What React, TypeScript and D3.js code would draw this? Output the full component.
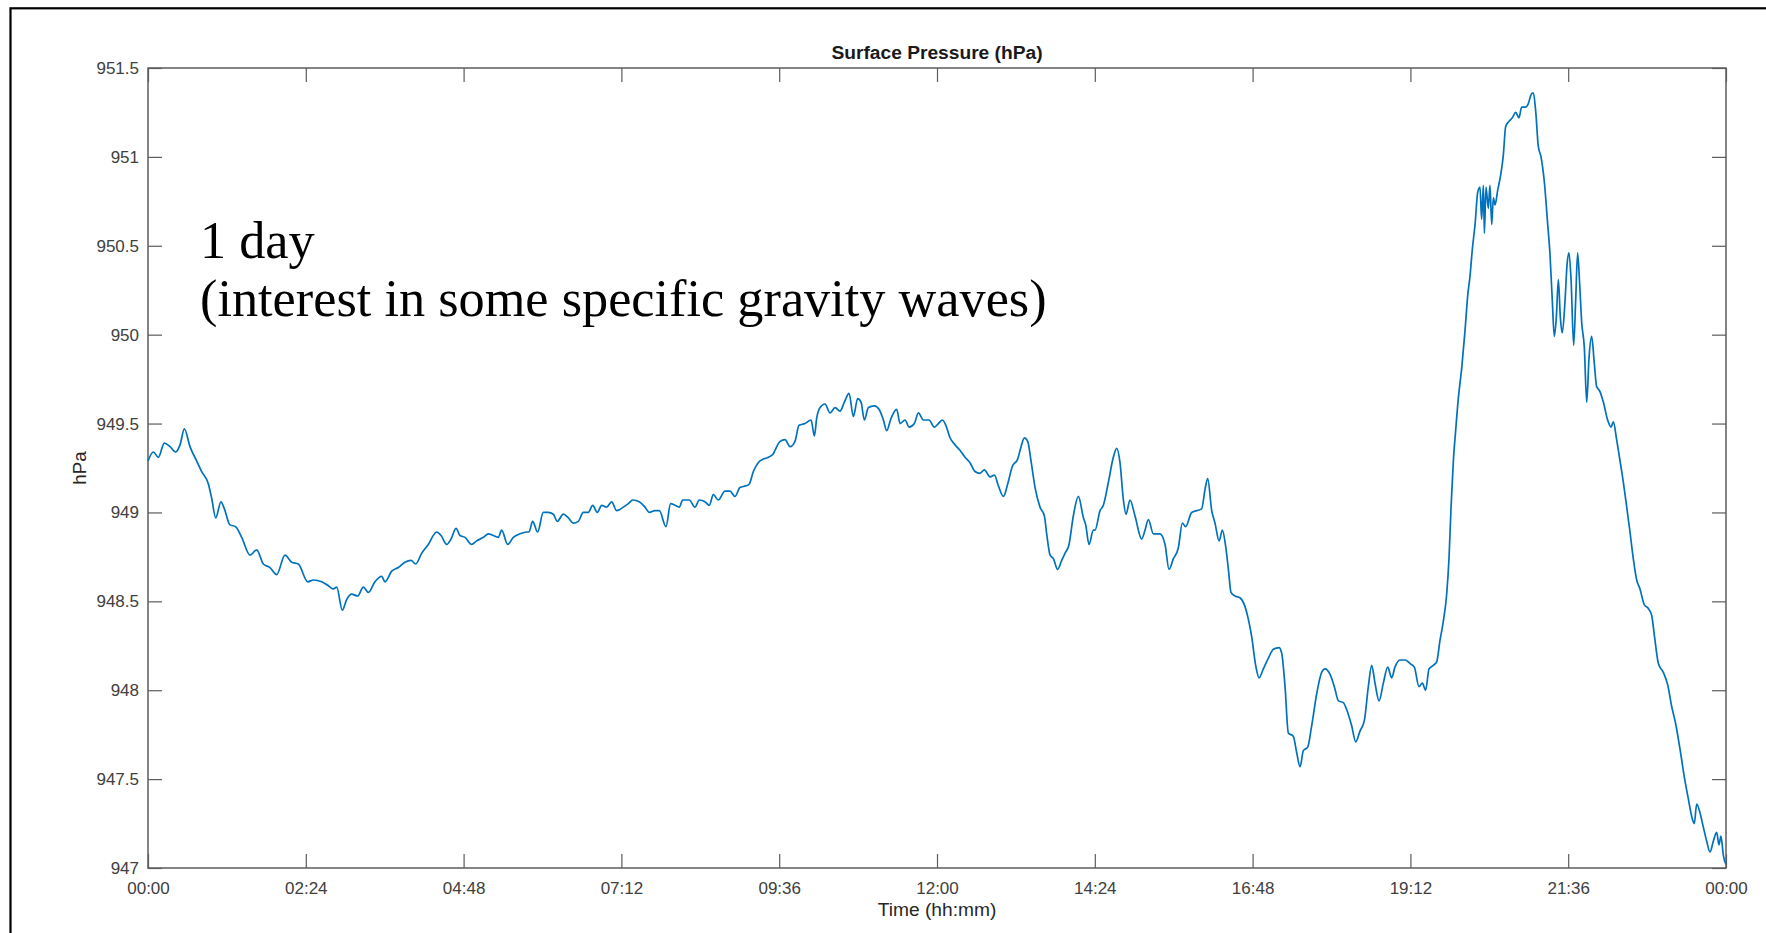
import React, { useEffect, useRef } from 'react';
import * as d3 from 'd3';

// readings: [minutes since 00:00, pressure in hPa]
const nightReadings: [number, number][] = [
  [0, 949.29], [4.9, 949.34], [9.4, 949.31], [14.9, 949.39], [20.1, 949.37], [25.2, 949.34],
  [29.2, 949.38], [33.2, 949.47], [38.3, 949.37], [44.4, 949.29], [49.0, 949.23], [55.1, 949.16],
  [58.1, 949.08], [61.8, 948.97], [66.6, 949.06], [69.7, 949.02], [74.8, 948.93], [80.0, 948.92],
  [85.5, 948.86], [93.1, 948.76], [99.2, 948.79], [105.2, 948.71], [111.3, 948.69], [117.4, 948.65],
  [125.0, 948.76], [131.1, 948.72], [137.2, 948.71], [145.7, 948.61], [150.9, 948.62], [158.5, 948.61],
  [164.0, 948.59], [169.1, 948.57], [172.2, 948.58], [177.3, 948.45], [181.3, 948.51], [185.9, 948.54],
  [191.3, 948.53], [196.5, 948.58], [201.1, 948.55], [207.1, 948.61], [213.2, 948.64], [216.3, 948.61],
  [222.4, 948.67], [228.4, 948.69], [234.5, 948.72], [240.0, 948.73], [244.3, 948.71], [249.7, 948.77],
  [255.8, 948.82], [263.4, 948.89], [267.4, 948.87], [272.6, 948.82], [276.5, 948.85], [281.1, 948.91],
];

const morningReadings: [number, number][] = [
  [284.7, 948.87], [289.3, 948.86], [295.3, 948.82], [299.9, 948.84], [306.0, 948.86], [310.6, 948.88],
  [315.1, 948.87], [319.7, 948.86], [322.7, 948.9], [328.2, 948.82], [333.4, 948.86], [339.5, 948.88],
  [345.5, 948.89], [347.7, 948.89], [351.0, 948.95], [355.6, 948.89], [360.7, 949.0], [365.3, 949.0],
  [369.9, 948.99], [373.5, 948.95], [379.0, 948.99], [383.6, 948.97], [388.1, 948.94], [392.7, 948.95],
  [397.2, 949.0], [401.8, 949.0], [405.8, 949.04], [410.0, 949.0], [414.0, 949.04], [418.5, 949.03],
  [423.1, 949.06], [427.7, 949.01], [433.7, 949.03], [438.3, 949.05], [442.3, 949.07], [448.3, 949.06],
  [453.5, 949.03], [457.5, 949.0], [462.6, 949.01], [466.6, 949.01], [472.7, 948.92], [476.9, 949.05],
  [480.9, 949.04], [484.9, 949.03], [487.9, 949.07], [494.0, 949.07], [499.1, 949.03], [503.1, 949.07],
  [508.3, 949.06], [512.2, 949.04], [515.9, 949.1], [520.4, 949.07], [526.5, 949.12], [531.1, 949.12],
  [535.6, 949.09], [540.2, 949.14], [545.7, 949.15], [548.7, 949.16], [552.4, 949.23], [556.9, 949.28],
  [561.5, 949.3], [566.1, 949.31], [570.6, 949.33],
];

const middayReadings: [number, number][] = [
  [572.2, 949.35], [576.8, 949.4], [581.3, 949.41], [585.9, 949.37], [590.4, 949.4], [594.1, 949.49],
  [599.6, 949.5], [605.1, 949.52], [608.1, 949.43], [610.2, 949.53], [613.3, 949.59], [617.8, 949.61],
  [622.4, 949.56], [627.0, 949.59], [631.5, 949.57], [635.5, 949.62], [639.7, 949.67], [643.7, 949.54],
  [647.6, 949.64], [650.7, 949.62], [653.7, 949.52], [657.4, 949.59], [662.8, 949.6], [667.1, 949.58],
  [671.1, 949.52], [674.1, 949.46], [678.1, 949.53], [683.2, 949.58], [686.3, 949.5], [690.8, 949.52],
  [694.5, 949.48], [699.3, 949.5], [703.0, 949.56], [707.6, 949.52], [712.7, 949.52], [717.6, 949.48],
  [721.3, 949.5], [724.9, 949.52], [728.1, 949.49], [731.9, 949.42], [736.5, 949.38], [741.0, 949.35],
  [745.6, 949.31], [750.1, 949.28], [754.7, 949.23], [759.3, 949.22], [763.2, 949.24], [768.4, 949.2],
  [772.4, 949.21], [776.0, 949.15], [780.6, 949.09], [784.5, 949.16], [788.8, 949.26], [793.6, 949.3],
  [796.7, 949.37], [799.7, 949.42], [802.8, 949.4], [805.8, 949.29], [809.5, 949.14], [814.0, 949.03],
  [818.0, 948.98], [820.1, 948.88], [823.2, 948.76], [826.2, 948.74], [830.1, 948.68], [833.8, 948.73],
  [836.8, 948.77], [840.5, 948.82], [844.4, 948.98], [849.0, 949.09], [853.6, 948.97], [855.7, 948.93],
  [858.7, 948.82], [862.7, 948.9],
];

const afternoonReadings: [number, number][] = [
  [864.2, 948.9], [868.8, 949.01], [871.8, 949.04], [876.4, 949.17], [880.9, 949.31], [884.0, 949.36],
  [887.0, 949.28], [890.1, 949.07], [892.5, 948.99], [896.1, 949.07], [900.7, 948.98], [906.8, 948.85],
  [909.8, 948.9], [912.9, 948.96], [917.4, 948.88], [923.5, 948.88], [928.1, 948.82], [931.7, 948.68],
  [935.7, 948.74], [940.2, 948.8], [943.9, 948.94], [946.9, 948.92], [952.4, 949.0], [957.0, 949.01],
  [961.5, 949.02], [964.6, 949.13], [967.0, 949.19], [970.7, 949.01], [973.7, 948.94], [977.4, 948.84],
  [980.4, 948.9], [983.4, 948.81], [985.9, 948.68], [988.3, 948.55], [992.0, 948.53], [996.5, 948.52],
  [1000.5, 948.48], [1004.1, 948.4], [1007.2, 948.3], [1010.8, 948.14], [1013.9, 948.07], [1017.8, 948.12],
  [1022.4, 948.18], [1026.9, 948.23], [1032.1, 948.24], [1034.5, 948.21], [1037.6, 948.02], [1040.6, 947.76],
  [1045.2, 947.74], [1048.2, 947.65], [1051.3, 947.57], [1054.3, 947.66], [1058.3, 947.68], [1061.9, 947.8],
  [1066.5, 947.98], [1071.0, 948.1], [1074.1, 948.12], [1078.6, 948.09], [1082.6, 948.02], [1086.3, 947.94],
  [1090.8, 947.93], [1093.9, 947.89], [1098.4, 947.8], [1102.1, 947.71], [1106.0, 947.77], [1110.0, 947.83],
  [1113.6, 948.02], [1116.7, 948.14], [1119.7, 948.04], [1123.4, 947.94], [1127.3, 948.04], [1131.3, 948.13],
  [1134.9, 948.07], [1137.9, 948.13], [1142.5, 948.17], [1147.1, 948.17], [1151.7, 948.15], [1155.6, 948.13],
];

const eveningReadings: [number, number][] = [
  [1159.8, 948.02], [1162.9, 948.04], [1165.9, 948.0], [1169.0, 948.12], [1172.9, 948.14], [1176.0, 948.16],
  [1179.0, 948.28], [1182.1, 948.39], [1185.1, 948.54], [1187.2, 948.74], [1189.1, 949.03], [1191.2, 949.29],
  [1193.3, 949.46], [1195.7, 949.64], [1198.8, 949.81], [1201.8, 950.02], [1204.3, 950.22], [1206.4, 950.33],
  [1208.5, 950.48], [1211.0, 950.62], [1213.4, 950.8], [1215.5, 950.83], [1217.0, 950.65], [1218.6, 950.84],
  [1219.5, 950.57], [1221.0, 950.83], [1223.1, 950.71], [1224.6, 950.84], [1226.2, 950.62], [1227.7, 950.77],
  [1229.2, 950.73], [1231.6, 950.81], [1234.7, 950.91], [1236.8, 951.01], [1238.9, 951.17], [1242.0, 951.2],
  [1245.0, 951.22], [1248.1, 951.25], [1251.1, 951.22], [1253.5, 951.28], [1257.2, 951.28], [1259.6, 951.3],
  [1262.1, 951.35], [1264.2, 951.36], [1266.3, 951.26], [1268.7, 951.06], [1271.2, 951.0], [1274.2, 950.86],
  [1277.3, 950.62], [1279.4, 950.45], [1281.5, 950.19], [1283.3, 949.99], [1285.2, 950.1], [1287.0, 950.31],
  [1288.8, 950.1], [1290.6, 950.01], [1293.1, 950.19], [1294.9, 950.39], [1296.7, 950.46], [1298.6, 950.31],
  [1301.0, 949.94], [1302.8, 950.19], [1304.6, 950.46], [1306.5, 950.28], [1308.3, 950.07], [1310.7, 949.93],
  [1312.9, 949.62], [1315.0, 949.87], [1317.4, 949.99], [1319.8, 949.84], [1321.9, 949.71], [1325.0, 949.68],
  [1328.1, 949.62], [1332.0, 949.52], [1335.1, 949.48], [1337.2, 949.51], [1340.2, 949.41], [1343.3, 949.29],
  [1346.3, 949.17], [1349.4, 949.03], [1352.4, 948.89], [1355.4, 948.74], [1358.5, 948.62], [1361.5, 948.57],
  [1365.5, 948.48], [1369.1, 948.46], [1372.2, 948.42], [1374.6, 948.31], [1378.3, 948.15], [1382.8, 948.1],
  [1386.8, 948.03], [1390.4, 947.91], [1394.1, 947.81], [1398.0, 947.67], [1402.0, 947.51], [1405.6, 947.39],
  [1408.7, 947.29], [1411.1, 947.25], [1413.2, 947.36], [1416.3, 947.31], [1419.3, 947.23], [1422.4, 947.15],
  [1425.4, 947.09], [1428.4, 947.15], [1431.5, 947.2], [1433.6, 947.13], [1435.4, 947.18], [1437.6, 947.07],
  [1440, 947.02],
];

const yTicks = [947, 947.5, 948, 948.5, 949, 949.5, 950, 950.5, 951, 951.5];
const yTickLabels = ['947', '947.5', '948', '948.5', '949', '949.5', '950', '950.5', '951', '951.5'];
const xTicks = [0, 144, 288, 432, 576, 720, 864, 1008, 1152, 1296, 1440];
const xTickLabels = ['00:00', '02:24', '04:48', '07:12', '09:36', '12:00', '14:24', '16:48', '19:12', '21:36', '00:00'];

const App: React.FC = () => {
  const svgRef = useRef<SVGSVGElement | null>(null);

  useEffect(() => {
    if (!svgRef.current) return;

    const width = 1766;
    const height = 933;
    const margin = { top: 68, right: 40, bottom: 65, left: 148 };
    const sans = '"Liberation Sans", Arial, Helvetica, sans-serif';
    const axisColor = '#5c5c5c';

    const svg = d3.select(svgRef.current);
    svg.selectAll('*').remove();

    svg.append('rect').attr('width', width).attr('height', height).attr('fill', '#fff');

    // frame of the slide the figure was cut from
    svg
      .append('rect')
      .attr('x', 10.5)
      .attr('y', 8.3)
      .attr('width', 2000)
      .attr('height', 2000)
      .attr('fill', 'none')
      .attr('stroke', '#000')
      .attr('stroke-width', 2.2);

    const data = [
      ...nightReadings,
      ...morningReadings,
      ...middayReadings,
      ...afternoonReadings,
      ...eveningReadings,
    ];

    const xScale = d3
      .scaleLinear()
      .domain([0, 1440])
      .range([margin.left, width - margin.right]);

    const yScale = d3
      .scaleLinear()
      .domain([947, 951.5])
      .range([height - margin.bottom, margin.top]);

    const styleAxis = (g: d3.Selection<SVGGElement, unknown, null, undefined>) => {
      g.select('.domain').remove();
      g.selectAll('.tick line').attr('stroke', axisColor).attr('stroke-width', 1.2);
      g.selectAll('.tick text')
        .attr('fill', '#404040')
        .attr('font-size', 17)
        .attr('font-family', sans);
    };

    svg
      .append('g')
      .attr('transform', `translate(0, ${height - margin.bottom})`)
      .call(
        d3
          .axisBottom(xScale)
          .tickValues(xTicks)
          .tickFormat((d, i) => xTickLabels[i])
          .tickSize(-14)
          .tickPadding(14)
      )
      .call(styleAxis);

    svg
      .append('g')
      .attr('transform', `translate(0, ${margin.top})`)
      .call(d3.axisTop(xScale).tickValues(xTicks).tickFormat(() => '').tickSize(-14))
      .call(styleAxis);

    svg
      .append('g')
      .attr('transform', `translate(${margin.left}, 0)`)
      .call(
        d3
          .axisLeft(yScale)
          .tickValues(yTicks)
          .tickFormat((d, i) => yTickLabels[i])
          .tickSize(-14)
          .tickPadding(9)
      )
      .call(styleAxis);

    svg
      .append('g')
      .attr('transform', `translate(${width - margin.right}, 0)`)
      .call(d3.axisRight(yScale).tickValues(yTicks).tickFormat(() => '').tickSize(-14))
      .call(styleAxis);

    svg
      .append('rect')
      .attr('x', margin.left)
      .attr('y', margin.top)
      .attr('width', width - margin.left - margin.right)
      .attr('height', height - margin.top - margin.bottom)
      .attr('fill', 'none')
      .attr('stroke', axisColor)
      .attr('stroke-width', 1.5);

    const line = d3
      .line<[number, number]>()
      .x((d) => xScale(d[0]))
      .y((d) => yScale(d[1]))
      .curve(d3.curveMonotoneX);

    svg
      .append('path')
      .datum(data)
      .attr('d', line)
      .attr('fill', 'none')
      .attr('stroke', '#0072BD')
      .attr('stroke-width', 1.7)
      .attr('stroke-linejoin', 'round');

    const midX = (margin.left + width - margin.right) / 2;
    const midY = (margin.top + height - margin.bottom) / 2;

    svg
      .append('text')
      .attr('x', midX)
      .attr('y', 59)
      .attr('text-anchor', 'middle')
      .attr('font-family', sans)
      .attr('font-weight', 'bold')
      .attr('font-size', 19.2)
      .attr('fill', '#1a1a1a')
      .text('Surface Pressure (hPa)');

    svg
      .append('text')
      .attr('x', midX)
      .attr('y', 916)
      .attr('text-anchor', 'middle')
      .attr('font-family', sans)
      .attr('font-size', 19.2)
      .attr('fill', '#262626')
      .text('Time (hh:mm)');

    svg
      .append('text')
      .attr('transform', `translate(86, ${midY}) rotate(-90)`)
      .attr('text-anchor', 'middle')
      .attr('font-family', sans)
      .attr('font-size', 18.7)
      .attr('fill', '#262626')
      .text('hPa');

    const note = svg
      .append('g')
      .attr('font-family', '"Liberation Serif", "Times New Roman", serif')
      .attr('font-size', 52.3)
      .attr('fill', '#000');
    note.append('text').attr('x', 200).attr('y', 258).text('1 day');
    note.append('text').attr('x', 200).attr('y', 316).text('(interest in some specific gravity waves)');
  }, []);

  return (
    <svg
      ref={svgRef}
      width={1766}
      height={933}
      style={{ position: 'absolute', left: 0, top: 0, display: 'block' }}
    ></svg>
  );
};

export default App;
